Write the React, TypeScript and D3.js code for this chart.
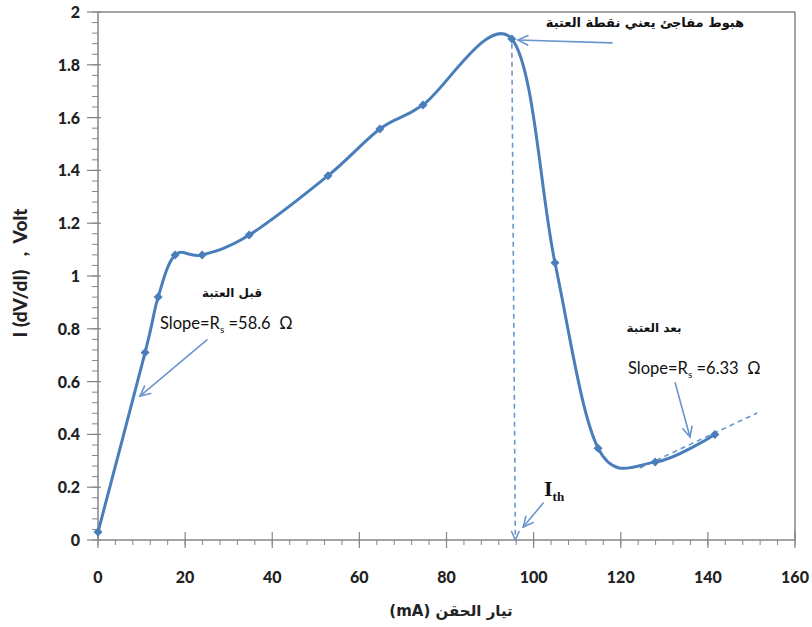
import React from "react";
import * as d3 from "d3";

const current = [0, 10.8, 13.8, 17.7, 23.9, 34.7, 52.8, 64.7, 74.6, 95, 104.9, 114.8, 127.9, 141.6];
const voltage = [0.03, 0.71, 0.92, 1.08, 1.08, 1.155, 1.38, 1.557, 1.648, 1.898, 1.05, 0.348, 0.295, 0.4];
const xTicks = [0, 20, 40, 60, 80, 100, 120, 140, 160];
const yTicks = [0, 0.2, 0.4, 0.6, 0.8, 1, 1.2, 1.4, 1.6, 1.8, 2];

const W = 812;
const H = 627;
const left = 98;
const right = 795;
const top = 12;
const bottom = 540;

const blue = "#4a7ebb";
const arrowBlue = "#6a96cc";
const gray = "#868686";
const labelFont = "Lato, 'Open Sans', sans-serif";
const arabicFont = "'DejaVu Sans', sans-serif";

function Arrow({ x1, y1, x2, y2 }: { x1: number; y1: number; x2: number; y2: number }) {
  const a = Math.atan2(y2 - y1, x2 - x1);
  const len = 11;
  const spread = 0.45;
  const p1 = [x2 - len * Math.cos(a - spread), y2 - len * Math.sin(a - spread)];
  const p2 = [x2 - len * Math.cos(a + spread), y2 - len * Math.sin(a + spread)];
  return (
    <g stroke={arrowBlue} strokeWidth={1.6} fill="none" strokeLinecap="round">
      <line x1={x1} y1={y1} x2={x2} y2={y2} />
      <polyline points={`${p1[0]},${p1[1]} ${x2},${y2} ${p2[0]},${p2[1]}`} />
    </g>
  );
}

export default function App() {
  const x = d3.scaleLinear().domain([0, 160]).range([left, right]);
  const y = d3.scaleLinear().domain([0, 2]).range([bottom, top]);
  const pts: [number, number][] = current.map((c, i) => [c, voltage[i]]);
  const line = d3
    .line<[number, number]>()
    .x((d) => x(d[0]))
    .y((d) => y(d[1]))
    .curve(d3.curveCardinal.tension(0));

  const xMinor = d3.range(0, 161, 4);
  const yMinor = d3.range(0, 2.001, 0.04);

  return (
    <svg width={W} height={H} style={{ position: "absolute", left: 0, top: 0, background: "#fff" }}>
      {/* frame */}
      <line x1={left} y1={top} x2={right} y2={top} stroke={gray} strokeWidth={1.5} />
      <line x1={right} y1={top} x2={right} y2={bottom} stroke={gray} strokeWidth={1.5} />
      <line x1={left} y1={top} x2={left} y2={bottom} stroke={gray} strokeWidth={1.5} />
      <line x1={left} y1={bottom} x2={right} y2={bottom} stroke={gray} strokeWidth={1.5} />

      {/* y ticks */}
      {yMinor.map((v, i) => (
        <line key={"ym" + i} x1={left - 6} x2={left} y1={y(v)} y2={y(v)} stroke={gray} strokeWidth={1} />
      ))}
      {yTicks.map((v) => (
        <g key={"y" + v}>
          <line x1={left - 11} x2={left + 3} y1={y(v)} y2={y(v)} stroke={gray} strokeWidth={1.2} />
          <text x={80} y={y(v) + 6} textAnchor="end" fontFamily={labelFont} fontWeight="900" fontSize={16} fill="#222">
            {v}
          </text>
        </g>
      ))}

      {/* x ticks */}
      {xMinor.map((v) => (
        <line key={"xm" + v} x1={x(v)} x2={x(v)} y1={bottom} y2={bottom + 5} stroke={gray} strokeWidth={1} />
      ))}
      {xTicks.map((v) => (
        <g key={"x" + v}>
          <line x1={x(v)} x2={x(v)} y1={bottom - 8} y2={bottom + 8} stroke={gray} strokeWidth={1.2} />
          <text x={x(v)} y={583} textAnchor="middle" fontFamily={labelFont} fontWeight="900" fontSize={16} fill="#222">
            {v}
          </text>
        </g>
      ))}

      {/* axis titles */}
      <text
        transform={`translate(27,${273}) rotate(-90)`}
        textAnchor="middle"
        fontFamily={labelFont}
        fontWeight="900"
        fontSize={19}
        fill="#222"
        xmlSpace="preserve"
      >
        I (dV/dI)   ,  Volt
      </text>
      <text x={451} y={616} textAnchor="middle" fontFamily={arabicFont} fontWeight="bold" fontSize={15} fill="#222" direction="rtl">
        تيار الحقن (mA)
      </text>

      {/* threshold dashed line */}
      <line x1={x(95)} y1={y(1.88)} x2={x(95.8)} y2={y(0)} stroke={arrowBlue} strokeWidth={1.6} strokeDasharray="5,4" />
      <polyline
        points={`${x(95.8) - 4},${y(0) - 9} ${x(95.8)},${y(0)} ${x(95.8) + 4},${y(0) - 9}`}
        fill="none"
        stroke={arrowBlue}
        strokeWidth={1.6}
      />

      {/* tangent dashed line after threshold */}
      <line x1={x(124.4)} y1={y(0.273)} x2={x(151.3)} y2={y(0.481)} stroke={arrowBlue} strokeWidth={1.6} strokeDasharray="5,4" />

      {/* data curve */}
      <path d={line(pts) || ""} fill="none" stroke={blue} strokeWidth={3} />
      {pts.map((d, i) => (
        <path key={"m" + i} d="M0,-4.5L4.5,0L0,4.5L-4.5,0Z" transform={`translate(${x(d[0])},${y(d[1])})`} fill={blue} />
      ))}

      {/* arrows */}
      <Arrow x1={x(118)} y1={y(1.883)} x2={x(96.4)} y2={y(1.894)} />
      <Arrow x1={x(25)} y1={y(0.758)} x2={x(9.64)} y2={y(0.545)} />
      <Arrow x1={x(132.5)} y1={y(0.595)} x2={x(135.9)} y2={y(0.39)} />
      <Arrow x1={x(102.2)} y1={y(0.14)} x2={x(97.6)} y2={y(0.049)} />

      {/* annotations */}
      <text x={645} y={27} textAnchor="middle" fontFamily={arabicFont} fontWeight="bold" fontSize={13} fill="#111" direction="rtl">
        هبوط مفاجئ يعني نقطة العتبة
      </text>
      <text x={232} y={297} textAnchor="middle" fontFamily={arabicFont} fontWeight="bold" fontSize={12} fill="#111" direction="rtl">
        قبل العتبة
      </text>
      <text x={160} y={329} fontFamily={labelFont} fontSize={16.5} fill="#111" xmlSpace="preserve">
        Slope=R<tspan fontSize={10} dy={4}>s</tspan>
        <tspan dy={-4}> =58.6  Ω</tspan>
      </text>
      <text x={654} y={332} textAnchor="middle" fontFamily={arabicFont} fontWeight="bold" fontSize={12} fill="#111" direction="rtl">
        بعد العتبة
      </text>
      <text x={628} y={374} fontFamily={labelFont} fontSize={16.5} fill="#111" xmlSpace="preserve">
        Slope=R<tspan fontSize={10} dy={4}>s</tspan>
        <tspan dy={-4}> =6.33  Ω</tspan>
      </text>
      <text x={544} y={496} fontFamily="'Liberation Serif', serif" fontWeight="bold" fontSize={22} fill="#111">
        I<tspan fontSize={13} dy={5}>th</tspan>
      </text>
    </svg>
  );
}
